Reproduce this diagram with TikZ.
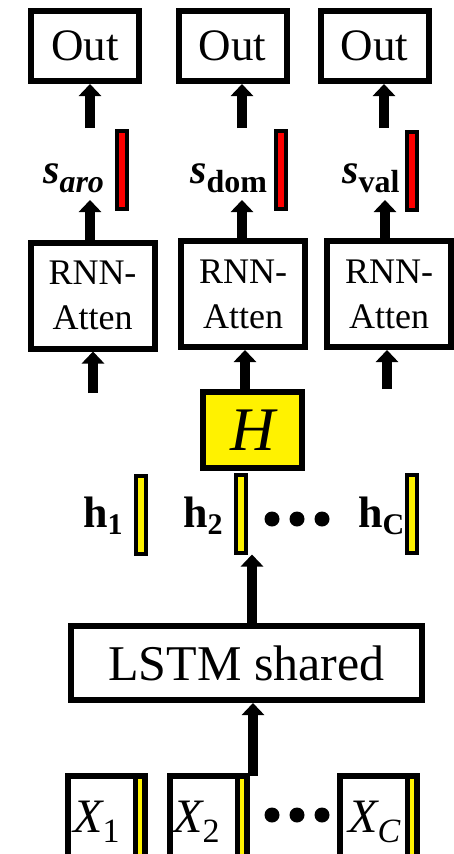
\documentclass[tikz,border=0pt]{standalone}
\usepackage{fontspec}
\setmainfont{Liberation Serif}
\newfontfamily\tnr{Liberation Serif}
\usetikzlibrary{arrows.meta}

\newcommand{\lowsub}[3]{\raisebox{-#2pt}{\fontsize{#1}{#1}\selectfont #3}}

\tikzset{
  every node/.style={font=\tnr},
  box/.style={draw, line width=6pt, inner sep=0pt, align=center},
  outbox/.style={box, minimum width=108pt, minimum height=70pt, font=\tnr\fontsize{45}{50}\selectfont},
  rnnbox/.style={box, minimum width=124pt, minimum height=106pt, font=\tnr\fontsize{36}{45}\selectfont},
  xbox/.style={box, minimum width=77pt, minimum height=104pt},
  vecbar/.style={draw, line width=4pt, minimum width=10pt, minimum height=78pt, inner sep=0pt},
  lbl/.style={anchor=base west, inner sep=0pt},
  arr/.style={line width=10pt, -{Triangle[width=22pt,length=12pt]}},
  bigdot/.style={circle, fill, minimum size=15pt, inner sep=0pt},
}

\begin{document}
\begin{tikzpicture}[x=1pt, y=-1pt]
    \useasboundingbox (0,0) rectangle (454,854);

    % Outputs
    \node[outbox] (o1) at (85,46) {Out};
    \node[outbox] (o2) at (232.5,46) {Out};
    \node[outbox] (o3) at (374.5,46) {Out};

    % Task vectors
    \node[vecbar, fill=red] (sb1) at (122,170) {};
    \node[vecbar, fill=red] (sb2) at (281,170) {};
    \node[vecbar, fill=red] (sb3) at (411.5,171) {};
    \node[lbl] (s1) at (43,183) {\fontsize{42}{42}\selectfont\bfseries\itshape s\lowsub{32}{9}{aro}};
    \node[lbl] (s2) at (190,183) {\fontsize{42}{42}\selectfont\bfseries{\itshape s}\lowsub{32}{9}{dom}};
    \node[lbl] (s3) at (342,183) {\fontsize{42}{42}\selectfont\bfseries{\itshape s}\lowsub{32}{9}{val}};

    % Attention heads
    \node[rnnbox] (r1) at (92.5,295.5) {RNN-\\Atten};
    \node[rnnbox] (r2) at (243,294) {RNN-\\Atten};
    \node[rnnbox] (r3) at (389,294) {RNN-\\Atten};

    % Shared hidden matrix
    \node[box, fill=yellow, minimum width=99pt, minimum height=76pt,
      font=\tnr\fontsize{62}{62}\selectfont\itshape] (H) at (252.5,430) {H};

    % Hidden states
    \node[vecbar, fill=yellow] (hb1) at (141,514.5) {};
    \node[vecbar, fill=yellow] (hb2) at (240.5,513.5) {};
    \node[vecbar, fill=yellow] (hb3) at (411.5,513.5) {};
    \node[lbl] (h1) at (83,527) {\fontsize{44}{44}\selectfont\bfseries h\lowsub{30}{7}{1}};
    \node[lbl] (h2) at (183,527) {\fontsize{44}{44}\selectfont\bfseries h\lowsub{30}{7}{2}};
    \node[lbl] (h3) at (358,527) {\fontsize{44}{44}\selectfont\bfseries h\lowsub{30}{7}{C}};
    \foreach \i/\x in {1/272,2/297,3/322} {
        \node[bigdot] (hd\i) at (\x,519) {};
      }

    % Shared LSTM
    \node[box, minimum width=351pt, minimum height=74pt,
      font=\tnr\fontsize{50}{50}\selectfont] (lstm) at (246.5,663) {LSTM shared};

    % Inputs
    \foreach \i/\x in {1/106.5,2/208.5,3/378.5} {
        \draw[fill=yellow, line width=5pt] (\x+29,776) rectangle (\x+38.5,890);
        \node[xbox] (x\i) at (\x,828) {};
      }
    \node[lbl] (xt1) at (73,832) {\fontsize{48}{48}\selectfont{\itshape X}\lowsub{34}{10}{1}};
    \node[lbl] (xt2) at (173,832) {\fontsize{48}{48}\selectfont{\itshape X}\lowsub{34}{10}{2}};
    \node[lbl] (xt3) at (348,832) {\fontsize{48}{48}\selectfont{\itshape X}\lowsub{34}{10}{\itshape C}};
    \foreach \i/\x in {1/272,2/297,3/322} {
        \node[bigdot] (xd\i) at (\x,815) {};
      }

    % Arrow ends
    \coordinate (a1) at (90,128);
    \coordinate (a2) at (242,128);
    \coordinate (a3) at (384,128);
    \coordinate (e1) at (90,200);
    \coordinate (e2) at (242,200);
    \coordinate (e3) at (385,200);
    \coordinate (i1) at (93,393);
    \coordinate (i3) at (387,389);
    \coordinate (hx) at (245,0);
    \coordinate (lx) at (252,0);
    \coordinate (x2o) at (253,776);

    % Arrows
    \foreach \i in {1,2,3} {
        \draw[arr] (a\i) -- (a\i |- o\i.south);
        \draw[arr] (e\i |- r\i.north) -- (e\i);
      }
    \draw[arr] (i1) -- (i1 |- r1.south);
    \draw[arr] (i3) -- (i3 |- r3.south);
    \draw[arr] (hx |- H.north) -- (hx |- r2.south);
    \draw[arr] (lx |- lstm.north) -- (lx |- hb2.south);
    \draw[arr] (x2o) -- (x2o |- lstm.south);
  \end{tikzpicture}
\end{document}
